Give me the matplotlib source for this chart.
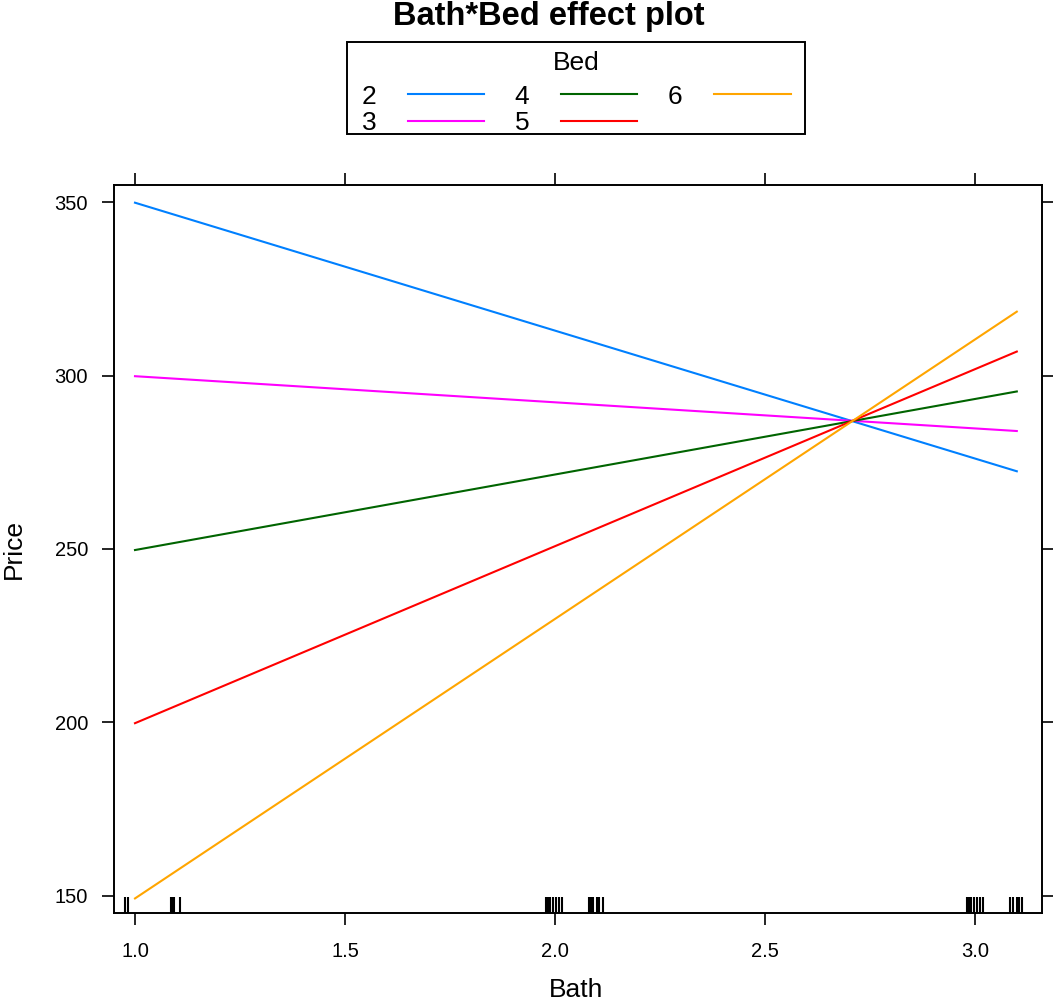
import numpy as np
import matplotlib.pyplot as plt
from matplotlib.patches import Rectangle

plt.rcParams['font.family'] = ['Liberation Sans', 'DejaVu Sans']

# effect lines: fitted Price at the two ends of the Bath range, one per Bed level
bath_ends = [1.0, 3.1]
bed_levels = ['2', '3', '4', '5', '6']
price_start = [349.8, 299.8, 249.7, 199.8, 149.3]
price_end = [272.4, 284.0, 295.4, 306.9, 318.4]
bed_colors = ['#0080ff', '#ff00ff', '#006400', '#ff0000', '#ffa500']

# observed Bath values (jittered) for the rug
bath_rug = [0.977, 0.984, 1.086, 1.089, 1.093, 1.107,
            1.979, 1.983, 1.988, 1.995, 2.002, 2.010, 2.017,
            2.081, 2.086, 2.090, 2.100, 2.105, 2.114,
            2.981, 2.986, 2.990, 2.998, 3.005, 3.012, 3.019,
            3.083, 3.090, 3.100, 3.105, 3.112]

x_ticks = [1.0, 1.5, 2.0, 2.5, 3.0]
y_ticks = [150, 200, 250, 300, 350]

W, H = 1053, 1008
fig = plt.figure(figsize=(W / 100, H / 100), dpi=100)
ax = fig.add_axes([114 / W, 1 - 913 / H, 928 / W, 728 / H])

handles = []
for lvl, y0, y1, col in zip(bed_levels, price_start, price_end, bed_colors):
    h, = ax.plot(bath_ends, [y0, y1], color=col, lw=1.5, label=lvl)
    handles.append(h)

ax.vlines(bath_rug, 0, 0.022, transform=ax.get_xaxis_transform(),
          color='black', lw=1.5)

ax.set_xlim(0.95, 3.16)
ax.set_ylim(145.1, 354.9)
ax.set_xticks(x_ticks)
ax.set_xticklabels(['%.1f' % v for v in x_ticks])
ax.set_yticks(y_ticks)
ax.set_yticklabels([str(v) for v in y_ticks])
ax.tick_params(direction='out', length=8.6, width=1.2, labelsize=14.5,
               top=True, right=True, labeltop=False, labelright=False)
ax.tick_params(axis='x', pad=12)
ax.tick_params(axis='y', pad=10)
for sp in ax.spines.values():
    sp.set_linewidth(1.4)

fig.text(549 / W, 1 - 17 / H, 'Bath*Bed effect plot', ha='center',
         va='center', fontsize=23.5, fontweight='bold')
fig.text(576 / W, 1 - 990 / H, 'Bath', ha='center', va='center',
         fontsize=19)
fig.text(14 / W, 1 - 549 / H, 'Price', ha='center', va='center',
         fontsize=19, rotation=90)

# key: text before the line, 3 columns, framed separately
leg = fig.legend(handles=handles, labels=bed_levels, title='Bed', ncol=3,
                 loc='upper center', bbox_to_anchor=(576 / W, 1 - 51 / H),
                 markerfirst=False, fontsize=19, title_fontsize=19,
                 frameon=False, handlelength=2.9, handletextpad=1.2,
                 columnspacing=1.15, labelspacing=0.08, borderpad=0,
                 borderaxespad=0)
leg._legend_box.sep = 7
fig.add_artist(Rectangle((347 / W, 1 - 134 / H), 458 / W, 92 / H,
                         transform=fig.transFigure, fill=False,
                         edgecolor='black', lw=1.4))

fig.savefig('out.png', dpi=100)
